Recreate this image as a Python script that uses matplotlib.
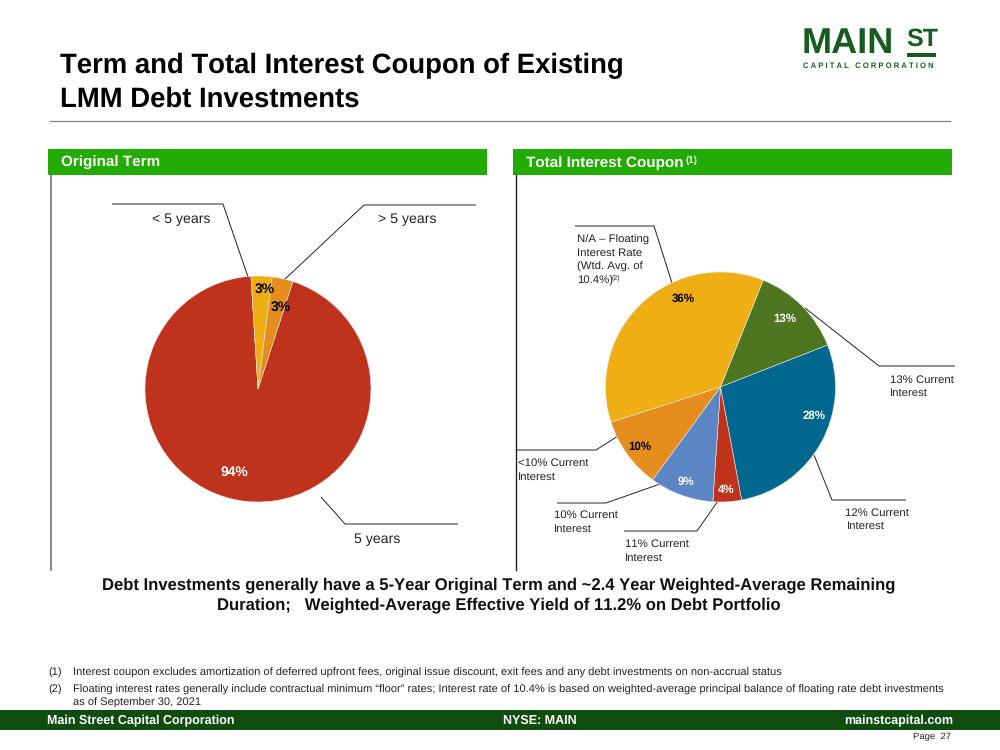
import matplotlib
matplotlib.use("Agg")
import matplotlib.pyplot as plt
from matplotlib.patches import Rectangle

plt.rcParams['font.family'] = ['Liberation Sans', 'DejaVu Sans']
plt.rcParams['text.hinting'] = 'no_hinting'
plt.rcParams['text.kerning_factor'] = 6

# pie data
term_values = [94, 3, 3]
term_colors = ['#BF331C', '#EFAF14', '#E58E1E']
term_labels = ['94%', '3%', '3%']
term_label_colors = ['white', 'black', 'black']

coupon_values = [13, 28, 4, 9, 10, 36]
coupon_colors = ['#4E7620', '#00678F', '#BF331C', '#5B85C5', '#E58E1E', '#EFAF14']
coupon_labels = ['13%', '28%', '4%', '9%', '10%', '36%']
coupon_label_colors = ['white', 'white', 'white', 'white', 'black', 'black']

title_lines = ['Term and Total Interest Coupon of Existing', 'LMM Debt Investments']
summary_lines = ['Debt Investments generally have a 5-Year Original Term and ~2.4 Year Weighted-Average Remaining',
                 'Duration;   Weighted-Average Effective Yield of 11.2% on Debt Portfolio']
note1 = 'Interest coupon excludes amortization of deferred upfront fees, original issue discount, exit fees and any debt investments on non-accrual status'
note2a = 'Floating interest rates generally include contractual minimum \u201cfloor\u201d rates; Interest rate of 10.4% is based on weighted-average principal balance of floating rate debt investments'
note2b = 'as of September 30, 2021'

W, H = 1000, 750
fig = plt.figure(figsize=(10, 7.5), dpi=100)
bg = fig.add_axes([0, 0, 1, 1])
bg.set_xlim(0, W)
bg.set_ylim(H, 0)
bg.axis('off')


def txt(x, y, s, size=9, color='black', weight='normal', ha='left', **kw):
    # va center sits a little high because of descenders
    bg.text(x, y + 2, s, fontsize=size, color=color, fontweight=weight, ha=ha, va='center', **kw)


def leader(xs, ys, color='#222222', lw=0.7):
    bg.plot(xs, ys, color=color, lw=lw, solid_capstyle='butt', zorder=1)


def draw_pie(cx, cy, r, values, colors, startangle, labels, label_colors, label_pos, label_size):
    size = 2.5 * r
    ax = fig.add_axes([(cx - size / 2) / W, 1 - (cy + size / 2) / H, size / W, size / H])
    ax.pie(values, colors=colors, startangle=startangle, counterclock=False,
           wedgeprops={'linewidth': 0.4, 'edgecolor': '#e8e8e8'})
    ax.patch.set_alpha(0)
    for (lx, ly), s, c in zip(label_pos, labels, label_colors):
        ax.text((lx - cx) / r, (cy - ly) / r, s, color=c, fontsize=label_size, fontweight='bold',
                ha='center', va='center')
    return ax


# title and logo
txt(60, 64, title_lines[0], size=19.8, color='black', weight='bold')
txt(60, 97, title_lines[1], size=19.8, color='black', weight='bold')
bg.plot([50, 950], [121, 121], color='#7f7f7f', lw=0.9)

green_dark = '#165C1E'
txt(802, 42, 'MAIN', size=26, color=green_dark, weight='bold')
txt(906, 37.5, 'ST', size=18, color=green_dark, weight='bold')
bg.add_patch(Rectangle((907, 53), 29, 4, color=green_dark, lw=0))
txt(803, 63.5, 'C A P I T A L   C O R P O R A T I O N', size=5.5, color=green_dark, weight='bold')

# panel headers
for x0 in [48, 513]:
    bg.add_patch(Rectangle((x0, 149), 439, 26, color='#22AB03', lw=0))
txt(61, 161, 'Original Term', size=11, color='white', weight='bold')
txt(526, 161, 'Total Interest Coupon', size=11, color='white', weight='bold')
txt(686, 158, '(1)', size=7, color='white', weight='bold')
bg.plot([51, 51], [175, 570], color='#7f7f7f', lw=1.3)
bg.plot([516, 516], [175, 570], color='#222222', lw=1.0)

# left pie leaders
leader([112, 223, 248], [204, 204, 277])
leader([476, 364, 284], [205, 205, 280])
leader([458, 345, 321], [524, 524, 497])
txt(181, 217.5, '< 5 years', size=10.2, color='#222222', ha='center')
txt(407, 217.5, '> 5 years', size=10.2, color='#222222', ha='center')
txt(377, 537.5, '5 years', size=10.2, color='#222222', ha='center')

draw_pie(258, 389, 113, term_values, term_colors, 72, term_labels, term_label_colors,
         [(234, 472), (265, 289), (281, 307)], 10)

# right pie leaders
leader([575, 654, 672], [226, 226, 283])
leader([955, 879, 805], [366, 366, 308])
leader([906, 832, 814], [500, 500, 455])
leader([516, 596, 618], [450, 450, 436])
leader([557, 606, 660], [503, 503, 484])
leader([624, 697, 718], [531, 531, 501])

fs = 8.2
c = '#222222'
txt(577, 238, 'N/A \u2013 Floating', size=fs, color=c)
txt(577, 251.5, 'Interest Rate', size=fs, color=c)
txt(577, 265, '(Wtd. Avg. of', size=fs, color=c)
txt(577, 278.5, '10.4%)', size=fs, color=c)
txt(612, 275.5, '(2)', size=5, color=c)
txt(890, 378, '13% Current', size=fs, color=c)
txt(890, 391.5, 'Interest', size=fs, color=c)
txt(518, 461.5, '<10% Current', size=fs, color=c)
txt(518, 475, 'Interest', size=fs, color=c)
txt(554, 513.5, '10% Current', size=fs, color=c)
txt(554, 527, 'Interest', size=fs, color=c)
txt(625, 542.5, '11% Current', size=fs, color=c)
txt(625, 556, 'Interest', size=fs, color=c)
txt(845, 511, '12% Current', size=fs, color=c)
txt(847, 524.5, 'Interest', size=fs, color=c)

draw_pie(720.5, 387, 115, coupon_values, coupon_colors, 68.2, coupon_labels, coupon_label_colors,
         [(785, 319), (814, 416), (726, 490), (686, 482), (640, 447), (683, 299)], 8.3)

# summary text
txt(499, 583, summary_lines[0], size=11.95, color='#111111', weight='bold', ha='center')
txt(499, 603, summary_lines[1], size=11.95, color='#111111', weight='bold', ha='center')

# footnotes
txt(48, 671, '(1)', size=8, color='#222222')
txt(73, 671, note1, size=8.06, color='#222222')
txt(48, 688, '(2)', size=8, color='#222222')
txt(73, 688, note2a, size=8.06, color='#222222')
txt(73, 700.5, note2b, size=8.06, color='#222222')

# footer
bg.add_patch(Rectangle((0, 710), W, 19.5, color='#0F4D0F', lw=0))
txt(47, 718.5, 'Main Street Capital Corporation', size=9, color='white', weight='bold')
txt(540, 718.5, 'NYSE: MAIN', size=9, color='white', weight='bold', ha='center')
txt(953, 718.5, 'mainstcapital.com', size=9, color='white', weight='bold', ha='right')
txt(951, 735, 'Page  27', size=6.8, color='#222222', ha='right')

fig.savefig('out.png', dpi=100)
